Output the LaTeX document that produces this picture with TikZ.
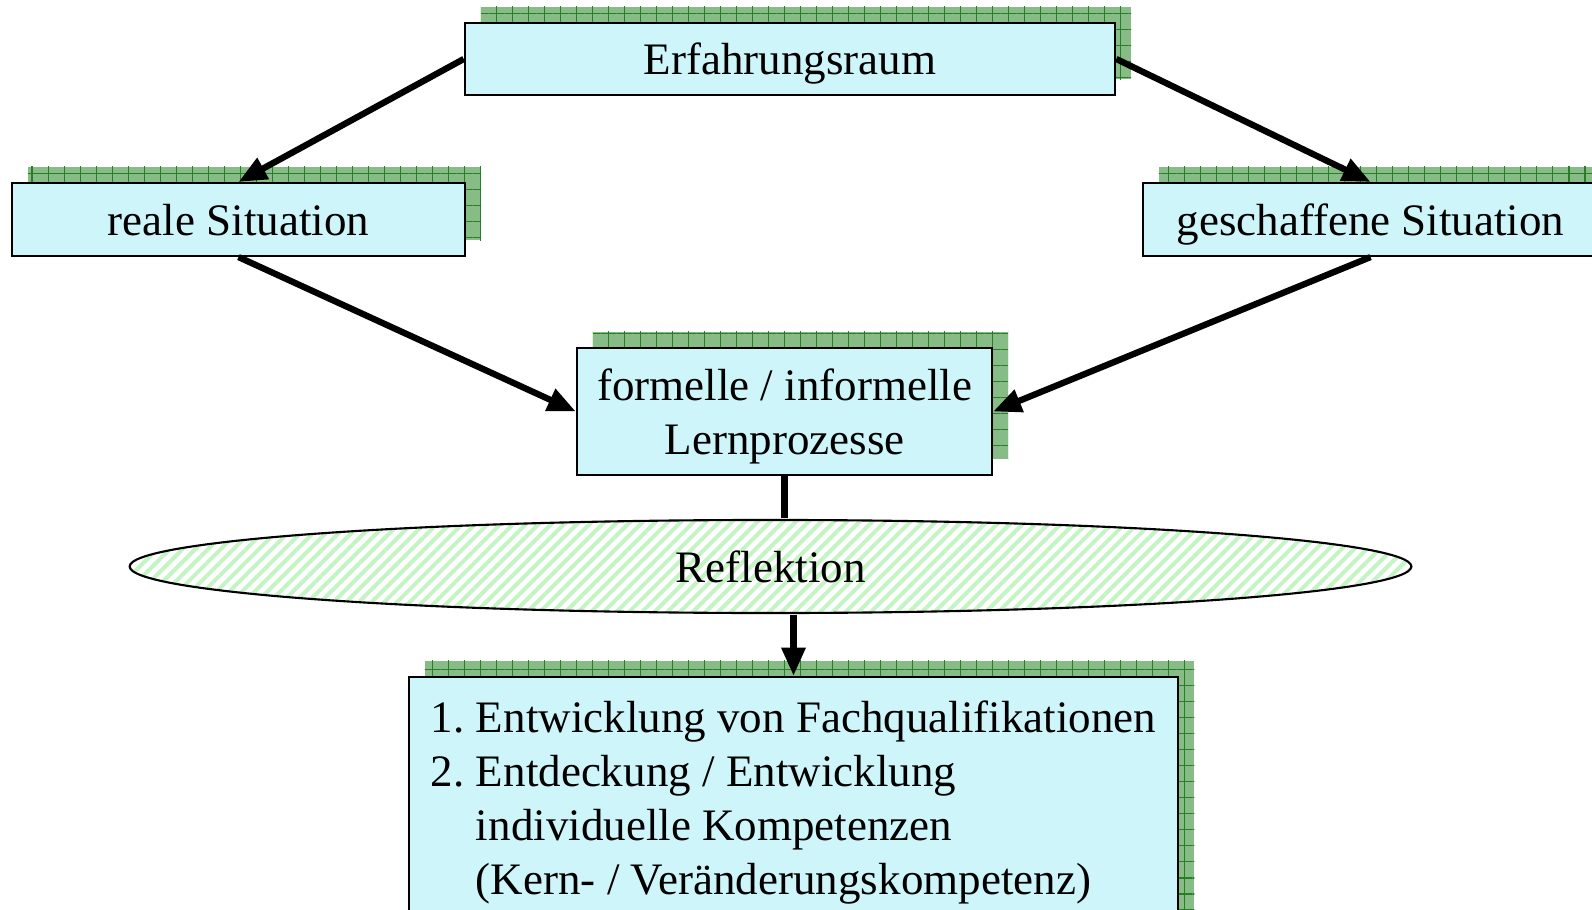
\documentclass[tikz,border=0pt]{standalone}
\usepackage{fontspec}
\setmainfont{Liberation Serif}
\usetikzlibrary{shapes.geometric,shadows,patterns.meta,arrows.meta}

\definecolor{boxcyan}{RGB}{206,246,250}
\definecolor{shadegreen}{RGB}{135,188,135}
\definecolor{gridgreen}{RGB}{40,125,40}
\definecolor{stripegreen}{RGB}{196,244,196}

\tikzset{
    gridshadow/.style={
        general shadow={fill=shadegreen, shadow xshift=0.16cm, shadow yshift=0.16cm},
        general shadow={pattern={Hatch[distance=0.16cm,line width=0.3pt]}, pattern color=gridgreen, shadow xshift=0.16cm, shadow yshift=0.16cm}},
    box/.style={draw, line width=0.6pt, fill=boxcyan, inner sep=0pt, gridshadow, text depth=0pt, font=\fontsize{12.8}{15.4}\selectfont, align=center},
    pfeil/.style={line width=1.8pt, -{Triangle[length=8pt,width=6.5pt]}}
}

\begin{document}
\begin{tikzpicture}[x=0.01cm, y=-0.01cm]
    \useasboundingbox (0,0) rectangle (1592,910);
    % Kaesten mit gerastertem Schatten
    \node[box, minimum width=6.5cm, minimum height=0.72cm] (erf) at (790,59) {Erfahrungsraum};
    \node[box, minimum width=4.53cm, minimum height=0.73cm] (real) at (238.5,219.5) {reale Situation};
    \node[box, minimum width=4.55cm, minimum height=0.73cm] (gesch) at (1370.5,219.5) {geschaffene Situation};
    \node[box, minimum width=4.15cm, minimum height=1.27cm] (lern) at (784.5,411.5) {formelle / informelle\\Lernprozesse};
    % Reflektion als schraffierte Ellipse
    \node[ellipse, draw, line width=0.6pt, inner sep=0pt, minimum width=12.81cm, minimum height=0.93cm,
        pattern={Lines[angle=45,distance=0.09cm,line width=0.04cm]}, pattern color=stripegreen,
        font=\fontsize{12.8}{15.4}\selectfont] (refl) at (770.5,566.5) {Reflektion};
    \node[box, text depth={}, minimum width=7.69cm, minimum height=2.51cm] (ziel) at (793.5,802.5) {%
        \begin{tabular}{@{}l@{\ }l@{}}
            1. & Entwicklung von Fachqualifikationen\\
            2. & Entdeckung / Entwicklung\\
               & individuelle Kompetenzen\\
               & (Kern- / Veränderungskompetenz)
        \end{tabular}};
    % Pfeile
    \draw[pfeil] (erf.west) -- (real.north);
    \draw[pfeil] (erf.east) -- (gesch.north);
    \draw[pfeil] (real.south) -- (lern.west);
    \draw[pfeil] (gesch.south) -- (lern.east);
    \draw[line width=1.8pt] (lern.south) -- (lern.south |- refl.north);
    \draw[pfeil] (ziel.north |- refl.south) -- (ziel.north);
\end{tikzpicture}
\end{document}
